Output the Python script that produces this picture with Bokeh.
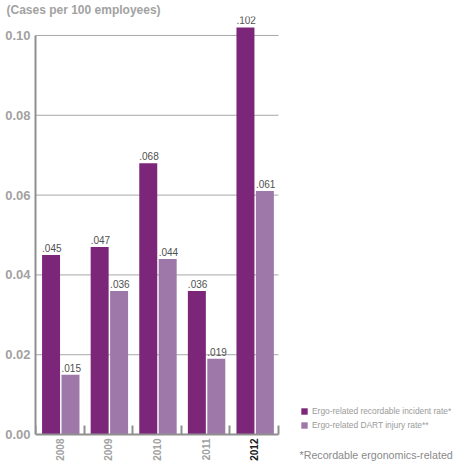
from math import pi
from bokeh.plotting import figure
from bokeh.models import (ColumnDataSource, FixedTicker, Legend, LegendItem, Label,
                          NumeralTickFormatter, Range1d)
from bokeh.core.properties import value
from bokeh.embed import file_html
from bokeh.resources import INLINE

years = ["2008", "2009", "2010", "2011", "2012"]
recordable = [0.045, 0.047, 0.068, 0.036, 0.102]
dart = [0.015, 0.036, 0.044, 0.019, 0.061]
y_ticks = [0.0, 0.02, 0.04, 0.06, 0.08, 0.10]
series_names = ["Ergo-related recordable incident rate*", "Ergo-related DART injury rate**"]
title_text = "(Cases per 100 employees)"
footnote_text = "*Recordable ergonomics-related"

DARK = "#7b2679"
LIGHT = "#9f78aa"
GREY = "#a2a2a2"
AXIS = "#8f8f8f"
FONT = "Liberation Sans"

# layout geometry (pixels)
W, H = 455, 461
LEFT, TOP = 35, 15
PLOT_RIGHT = 278          # where the category axis ends
ZERO_Y = 434              # pixel row of value 0
PX_PER_UNIT_Y = 4000.0
n = len(years)
PX_PER_CAT = (PLOT_RIGHT - LEFT) / n
X_END = (W - LEFT) / PX_PER_CAT
Y_END = (ZERO_Y - TOP) / PX_PER_UNIT_Y
Y_START = -(H - ZERO_Y) / PX_PER_UNIT_Y

BAR_W = 0.37
OFF_A = -0.18
OFF_B = 0.22

idx = list(range(n))
src_a = ColumnDataSource(dict(
    x=[i + 0.5 + OFF_A for i in idx],
    xl=[i + 0.5 + OFF_A - BAR_W / 2 for i in idx],
    top=recordable,
    lbl=[f"{v:.3f}"[1:] for v in recordable],
))
src_b = ColumnDataSource(dict(
    x=[i + 0.5 + OFF_B for i in idx],
    xl=[i + 0.5 + OFF_B - BAR_W / 2 for i in idx],
    top=dart,
    lbl=[f"{v:.3f}"[1:] for v in dart],
))
src_years = ColumnDataSource(dict(
    x=[i + 0.5 for i in idx],
    y=[-4 / PX_PER_UNIT_Y] * n,
    text=years,
    color=[GREY] * (n - 1) + ["#1a1a1a"],
))
src_grid = ColumnDataSource(dict(y=y_ticks[1:], x0=[0] * (len(y_ticks) - 1), x1=[n] * (len(y_ticks) - 1)))

p = figure(width=W, height=H, output_backend="svg", toolbar_location=None,
           x_range=Range1d(0, X_END), y_range=Range1d(Y_START, Y_END),
           min_border_left=LEFT, min_border_right=0, min_border_top=TOP, min_border_bottom=0)
p.outline_line_color = None
p.xgrid.visible = False
p.ygrid.visible = False

p.title.text = title_text
p.title.align = "left"
p.title.offset = -29
p.title.standoff = 0
p.title.text_font = FONT
p.title.text_font_style = "bold"
p.title.text_font_size = "12px"
p.title.text_color = GREY

# horizontal grid lines only across the category area
p.segment(x0="x0", x1="x1", y0="y", y1="y", source=src_grid, line_color="#a8a8a8", line_width=1)

# y axis
ya = p.yaxis[0]
ya.ticker = FixedTicker(ticks=y_ticks)
ya.formatter = NumeralTickFormatter(format="0.00")
ya.major_label_text_font = FONT
ya.major_label_text_font_style = "bold"
ya.major_label_text_font_size = "13px"
ya.major_label_text_color = GREY
ya.major_label_standoff = 5
ya.major_tick_out = 0
ya.major_tick_in = 0
ya.minor_tick_line_color = None
ya.axis_line_color = AXIS
ya.axis_line_width = 2
ya.bounds = (0, 0.10)

# x axis drawn at value 0 with boundary ticks between categories
xa = p.xaxis[0]
xa.fixed_location = 0
xa.bounds = (0, n)
xa.ticker = FixedTicker(ticks=[i + 0.5 for i in idx], minor_ticks=list(range(n + 1)))
xa.major_label_text_font_size = "0px"
xa.major_label_text_alpha = 0
xa.major_label_standoff = 0
xa.major_tick_line_color = None
xa.major_tick_out = 0
xa.major_tick_in = 0
xa.minor_tick_in = 9
xa.minor_tick_out = 0
xa.minor_tick_line_color = AXIS
xa.minor_tick_line_width = 2
xa.axis_line_color = AXIS
xa.axis_line_width = 2

r_a = p.vbar(x="x", top="top", width=BAR_W, source=src_a, fill_color=DARK, line_color=None)
r_b = p.vbar(x="x", top="top", width=BAR_W, source=src_b, fill_color=LIGHT, line_color=None)

for s in (src_a, src_b):
    p.text(x="xl", y="top", text="lbl", source=s, text_font=value(FONT),
           text_font_size="10px", text_color="#505050", text_baseline="bottom",
           text_align="left", x_offset=0, y_offset=-3)

# category labels (rotated), last year emphasised
p.text(x="x", y="y", text="text", source=src_years, angle=pi / 2, text_align="right",
       text_baseline="middle", text_font=value(FONT), text_font_style="bold",
       text_font_size="10px", text_color="color")

legend = Legend(items=[LegendItem(label=series_names[0], renderers=[r_a]),
                       LegendItem(label=series_names[1], renderers=[r_b])],
                location=(300 - LEFT, H - 430), glyph_width=8, glyph_height=8, label_height=8,
                spacing=4, padding=0, margin=0, border_line_color=None,
                background_fill_alpha=0, label_text_font=FONT,
                label_text_font_size="8.4px", label_text_color="#9a9a9a",
                label_standoff=4)
p.add_layout(legend)

p.add_layout(Label(x=299 - LEFT, y=H - 448, x_units="screen", y_units="screen",
                   text=footnote_text, text_align="left", text_baseline="top",
                   text_font=FONT, text_font_size="10.7px", text_color="#8a8a8a"))

open("out.html", "w").write(file_html(p, INLINE))
